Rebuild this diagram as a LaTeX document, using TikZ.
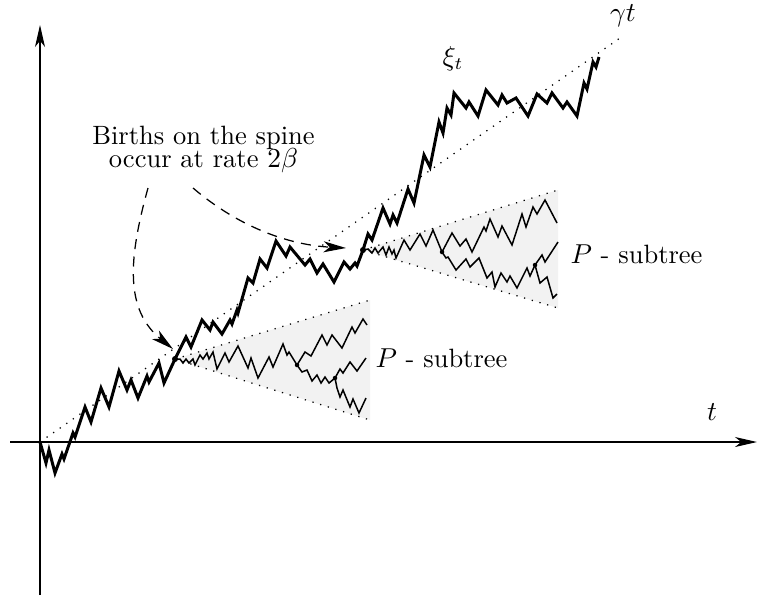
\documentclass[tikz,border=0pt]{standalone}
\usetikzlibrary{arrows.meta}
\begin{document}
\begin{tikzpicture}[x=0.4pt,y=-0.4pt,
  axisline/.style={line width=0.45pt,-{Stealth[length=8.8pt,width=4pt,inset=2.5pt]}},
  spine/.style={line width=1.2pt,line join=miter},
  sub/.style={line width=0.6pt},
  dotline/.style={line width=0.5pt,dash pattern=on 0.5pt off 2.7pt},
  conefill/.style={fill=black!5},
  dasharrow/.style={line width=0.5pt,dash pattern=on 4pt off 3pt,-{Stealth[length=9pt,width=4.4pt,inset=2.5pt]}},
  lbl/.style={font=\fontsize{10.6}{12.7}\selectfont,inner sep=0pt},
  birth/.style={circle,fill=black,inner sep=0pt,minimum size=2.4pt},
  branch/.style={circle,fill=black,inner sep=0pt,minimum size=1.8pt}]
\useasboundingbox (0,0) rectangle (757,595);

% cones
\coordinate (b1) at (175,359);
\coordinate (b2) at (363,250);
\coordinate (c1u) at (370,300);
\coordinate (c1l) at (370,420);
\coordinate (c2u) at (558,190);
\coordinate (c2l) at (558,308);
\fill[conefill] (b1) -- (c1u) -- (c1l) -- cycle;
\fill[conefill] (b2) -- (c2u) -- (c2l) -- cycle;
\draw[dotline] (b1) -- (c1u);
\draw[dotline] (b1) -- (c1l);
\draw[dotline] (b2) -- (c2u);
\draw[dotline] (b2) -- (c2l);

% axes
\coordinate (o) at (40,442);
\coordinate (ybot) at (40,595);
\coordinate (ytop) at (40,25);
\coordinate (xl) at (10,442);
\coordinate (xr) at (757,442);
\draw[axisline] (ybot) -- (ytop);
\draw[axisline] (xl) -- (xr);

% gamma t line
\coordinate (gend) at (620,38);
\draw[dotline] (o) -- (gend);

% subtree 1
\draw[sub] (b1) -- (180,359) -- (183,363) -- (186,359) -- (189,363) -- (193,359) -- (195,365) -- (200,355) -- (203,359) -- (207,353) -- (209,359) -- (213,352) -- (217,369) -- (225,353) -- (229,362) -- (238,346) -- (248,368) -- (251,358) -- (258,378) -- (269,357) -- (273,367) -- (283,344) -- (287,355) -- (289,352) -- (297,365) coordinate (s1a);
\draw[sub] (s1a) -- (305,352) -- (311,356) -- (322,335) -- (327,345) -- (332,335) -- (342,348) -- (352,327) -- (355,333) -- (363,319) -- (367,325);
\draw[sub] (s1a) -- (302,372) -- (307,370) -- (312,381) -- (317,375) -- (321,383) -- (325,377) -- (329,383) -- (335,378) coordinate (s1b);
\draw[sub] (s1b) -- (340,369) -- (343,373) -- (350,362) -- (357,371) -- (366,358);
\draw[sub] (s1b) -- (337,388) -- (340,397) -- (343,390) -- (350,407) -- (353,399) -- (359,413) -- (366,398);

% subtree 2
\draw[sub] (b2) -- (368,249) -- (372,253) -- (375,248) -- (378,253) -- (383,247) -- (386,255) -- (389,247) -- (392,254) -- (394,250) -- (396,258) -- (404,240) -- (410,250) -- (420,234) -- (426,246) -- (433,230) -- (442,252) coordinate (s2a);
\draw[sub] (s2a) -- (452,233) -- (460,246) -- (466,239) -- (472,252) -- (484,227) -- (486,231) -- (490,219) -- (498,237) -- (502,226) -- (512,245) -- (522,214) -- (526,227) -- (533,207) -- (537,214) -- (545,200) -- (557,223);
\draw[sub] (s2a) -- (446,258) -- (448,257) -- (456,270) -- (466,259) -- (470,267) -- (479,258) -- (487,278) -- (492,272) -- (495,287) -- (501,273) -- (507,282) -- (510,276) -- (517,288) -- (527,268) -- (530,276) -- (535,265) coordinate (s2b);
\draw[sub] (s2b) -- (542,255) -- (545,262) -- (558,242);
\draw[sub] (s2b) -- (540,283) -- (547,277) -- (553,298) -- (557,294);

% spine
\draw[spine] (o) -- (46,463) -- (49,450) -- (55,473) -- (62,454) -- (64,459) -- (73,433) -- (75,437) -- (85,407) -- (91,422) -- (101,388) -- (109,407) -- (119,371) -- (127,390) -- (131,380) -- (138,398) -- (147,376) -- (149,382) -- (159,363) -- (164,383) -- (b1)
 -- (186,337) -- (191,347) -- (202,320) -- (210,330) -- (213,322) -- (222,334) -- (230,320) -- (232,324) -- (237,310) -- (238,313) -- (248,278) -- (253,283) -- (260,259) -- (267,268) -- (276,241) -- (286,256) -- (290,247) -- (305,265) -- (310,259) -- (317,273) -- (323,264) -- (334,282) -- (344,262) -- (350,269) -- (355,263) -- (357,266) -- (b2)
 -- (368,234) -- (372,240) -- (383,208) -- (390,224) -- (393,215) -- (397,223) -- (408,189) -- (414,203) -- (424,155) -- (430,167) -- (439,122) -- (443,133) -- (447,108) -- (451,115) -- (454,93) -- (466,108) -- (469,102) -- (478,116) -- (486,90) -- (498,105) -- (502,95) -- (507,103) -- (516,98) -- (528,116) -- (537,94) -- (547,103) -- (552,93) -- (563,108) -- (567,102) -- (577,116) -- (584,83) -- (587,89) -- (593,62) -- (596,67) -- (599,57);

% dots
\node[birth] (d1) at (b1) {};
\node[birth] (d2) at (b2) {};
\node[branch] (d3) at (s1a) {};
\node[branch] (d4) at (s1b) {};
\node[branch] (d5) at (s2a) {};
\node[branch] (d6) at (s2b) {};

% labels
\node[inner sep=0pt,align=center,font={\fontsize{10.6}{9.5}\selectfont\lineskiplimit=-100pt}] (txt) at (203.5,149.5) {Births on the spine\\occur at rate $2\beta$};
\node[lbl,anchor=base] (gam) at (623,21) {$\gamma t$};
\node[lbl,anchor=base] (xi) at (453,65) {$\xi_t$};
\node[lbl,anchor=base] (tl) at (712,420) {$t$};
\node[lbl,anchor=base west] (p1) at (375,367) {$P$ - subtree};
\node[lbl,anchor=base west] (p2) at (570,263) {$P$ - subtree};

% dashed arrows
\coordinate (a1s) at (148,188);
\coordinate (a1e) at (173,349);
\coordinate (a2s) at (193,188);
\coordinate (a2e) at (346,248);
\draw[dasharrow] (a1s) .. controls (128,260) and (125,310) .. (a1e);
\draw[dasharrow] (a2s) .. controls (240,228) and (290,245) .. (a2e);
\end{tikzpicture}
\end{document}
